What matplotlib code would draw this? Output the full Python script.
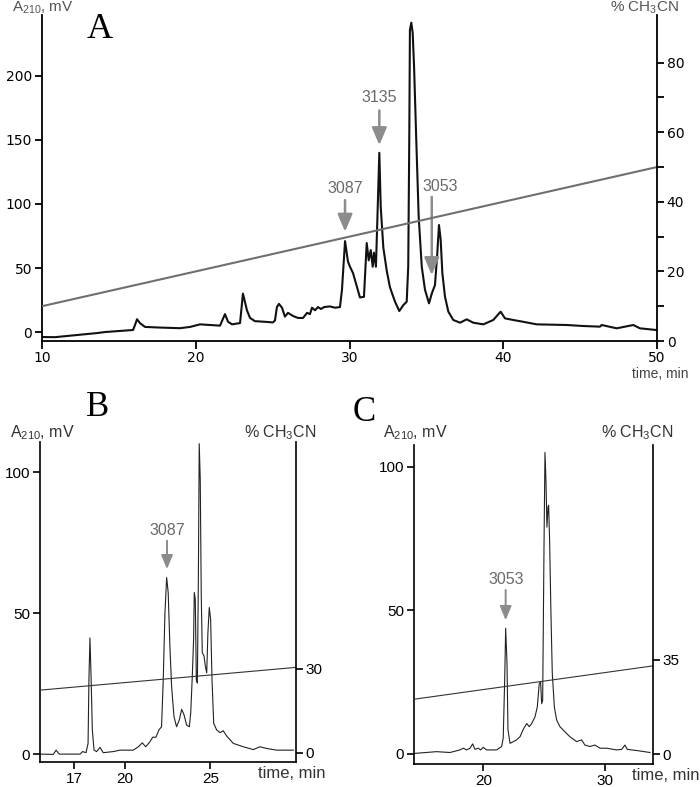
import numpy as np
import matplotlib
matplotlib.use("Agg")
import matplotlib.pyplot as plt

plt.rcParams["font.family"] = ["Liberation Sans", "DejaVu Sans"]
plt.rcParams["mathtext.default"] = "regular"

# ---- Panel A: full chromatogram ----
a_time = [10.0, 10.85, 13.58, 14.10, 15.92, 16.05, 16.18, 16.37, 16.70, 17.67,
          18.98, 19.63, 20.28, 20.93, 21.58, 21.90, 22.10, 22.36, 22.88, 23.07,
          23.33, 23.53, 23.85, 24.50, 25.02, 25.15, 25.28, 25.41, 25.61, 25.80,
          26.00, 26.13, 26.33, 26.65, 26.98, 27.24, 27.43, 27.56, 27.76, 27.95,
          28.15, 28.34, 28.73, 29.06, 29.38, 29.51, 29.71, 29.90, 30.03, 30.23,
          30.49, 30.68, 30.94, 31.12, 31.25, 31.38, 31.51, 31.59, 31.72, 31.81,
          31.94, 32.03, 32.20, 32.42, 32.63, 32.96, 33.24, 33.50, 33.72, 33.82,
          33.89, 33.93, 34.02, 34.11, 34.20, 34.33, 34.50, 34.70, 34.91, 35.17,
          35.35, 35.56, 35.71, 35.82, 35.93, 36.04, 36.21, 36.43, 36.75, 37.19,
          37.62, 38.05, 38.70, 39.35, 39.83, 40.11, 40.65, 41.30, 42.18, 44.13,
          45.21, 46.29, 46.40, 47.38, 48.46, 48.89, 49.94]
a_signal = [-3.9, -4.0, -0.8, 0.0, 1.6, 5.5, 10.0, 7.0, 4.0, 3.5,
            3.0, 4.0, 6.0, 5.5, 5.0, 14.0, 8.0, 6.0, 7.0, 30.0,
            17.0, 11.0, 8.5, 8.0, 7.5, 9.0, 19.5, 22.0, 19.0, 12.0,
            15.0, 14.0, 12.5, 11.0, 11.0, 15.0, 14.0, 19.0, 17.0, 19.5,
            18.0, 19.5, 20.0, 19.0, 19.5, 33.0, 71.0, 55.0, 51.0, 46.0,
            35.0, 27.0, 27.5, 69.5, 56.0, 64.0, 51.0, 62.0, 51.0, 87.0,
            140.0, 98.0, 66.0, 48.0, 35.0, 23.7, 16.4, 21.0, 23.7, 51.0,
            155.0, 236.0, 241.6, 233.6, 207.0, 155.0, 90.0, 51.0, 33.0, 22.4,
            30.0, 36.7, 61.5, 83.6, 72.0, 46.0, 27.6, 15.9, 9.4, 7.3,
            9.9, 7.3, 6.0, 9.4, 15.9, 10.7, 9.4, 8.0, 6.0, 5.5,
            4.7, 4.2, 5.5, 2.9, 5.5, 2.9, 1.6]
a_grad_time = [10, 50]
a_grad_pct = [10, 50]
a_labels = ["3087", "3135", "3053"]
a_label_time = [29.71, 31.94, 35.35]

# ---- Panel B: rechromatography of 3087 ----
b_time = [15.00, 15.78, 15.94, 16.13, 17.35, 17.50, 17.70, 17.82, 17.87, 17.93,
          17.99, 18.07, 18.17, 18.32, 18.52, 18.71, 19.30, 19.69, 20.47, 20.77,
          21.00, 21.20, 21.45, 21.61, 21.80, 21.98, 22.13, 22.23, 22.33, 22.43,
          22.52, 22.62, 22.72, 22.86, 23.01, 23.17, 23.31, 23.45, 23.60, 23.76,
          23.84, 23.93, 24.01, 24.05, 24.11, 24.17, 24.23, 24.29, 24.34, 24.40,
          24.46, 24.52, 24.62, 24.70, 24.78, 24.85, 24.93, 25.01, 25.09, 25.19,
          25.36, 25.56, 25.75, 25.95, 26.34, 26.93, 27.51, 27.90, 28.30, 28.88,
          29.86]
b_signal = [0.1, 0.0, 1.5, 0.1, 0.1, 1.0, 0.6, 3.9, 26.5, 41.3,
            28.9, 8.7, 1.5, 1.0, 2.5, 0.6, 1.0, 1.5, 1.5, 2.7,
            4.1, 2.7, 4.5, 6.1, 6.1, 8.7, 9.8, 26.5, 50.2, 62.7,
            57.4, 38.4, 24.1, 13.4, 9.8, 12.2, 16.0, 14.0, 10.4, 9.8,
            14.6, 27.1, 40.7, 57.4, 55.0, 26.5, 25.3, 62.1, 110.2, 97.6,
            56.2, 36.1, 34.9, 31.3, 28.9, 43.2, 52.1, 47.9, 26.5, 11.0,
            8.7, 7.7, 8.4, 6.5, 3.9, 2.7, 1.7, 2.7, 2.1, 1.5,
            1.5]
b_grad_time = [15, 30]
b_grad_pct = [22.3, 30.4]
b_labels = ["3087"]
b_label_time = [22.45]

# ---- Panel C: rechromatography of 3053 ----
c_time = [14.38, 16.17, 17.26, 18.08, 18.36, 18.63, 18.91, 19.13, 19.32, 19.59,
          19.78, 20.00, 20.28, 21.10, 21.51, 21.64, 21.76, 21.84, 21.95, 22.03,
          22.20, 22.47, 22.74, 23.02, 23.29, 23.57, 23.78, 23.98, 24.25, 24.44,
          24.60, 24.71, 24.80, 24.88, 24.99, 25.07, 25.15, 25.23, 25.32, 25.37,
          25.45, 25.56, 25.67, 25.84, 26.03, 26.30, 26.71, 27.12, 27.67, 28.08,
          28.35, 28.76, 29.17, 29.59, 30.14, 30.96, 31.37, 31.64, 31.83, 32.60,
          33.70]
c_signal = [0.2, 0.8, 0.5, 1.4, 2.0, 1.4, 2.0, 3.5, 1.6, 2.0,
            1.4, 2.3, 1.4, 1.4, 2.6, 5.5, 25.8, 43.8, 31.6, 8.4,
            3.7, 4.3, 4.9, 6.0, 8.6, 10.6, 9.5, 10.6, 12.9, 16.4,
            24.5, 25.1, 17.5, 18.7, 72.0, 105.0, 95.3, 79.0, 86.0, 86.6,
            74.5, 49.0, 28.1, 16.4, 11.8, 9.5, 7.7, 6.0, 4.3, 4.9,
            3.1, 2.6, 3.1, 2.0, 2.0, 1.4, 1.6, 3.1, 1.6, 1.2,
            0.5]
c_grad_time = [14.31, 33.92]
c_grad_pct = [20.4, 32.8]
c_labels = ["3053"]
c_label_time = [21.84]

W, H = 700, 787
fig = plt.figure(figsize=(W / 100, H / 100), dpi=100)


def rect(left, top, right, bottom):
    return [left / W, 1 - bottom / H, (right - left) / W, (bottom - top) / H]


def style(ax, ax2, fontfamily, fs, lw):
    for a in (ax, ax2):
        a.spines["top"].set_visible(False)
        for s in a.spines.values():
            s.set_linewidth(lw)
        a.tick_params(direction="out", length=5, width=lw, labelsize=fs, pad=2)
        for lab in a.get_xticklabels() + a.get_yticklabels():
            lab.set_family(fontfamily)
    ax2.spines["left"].set_visible(False)
    ax2.spines["bottom"].set_visible(False)
    ax.spines["right"].set_visible(False)


def arrow(ax, label, t, text_y, start_y, tip_y, text_t=None, fs=11,
          lw=1.8, hw=0.32, hl=0.75, color="#8c8c8c"):
    ax.annotate("", xy=(t, tip_y), xytext=(t, start_y),
                arrowprops=dict(arrowstyle=f"-|>,head_length={hl},head_width={hw}",
                                color=color, lw=lw, shrinkA=0, shrinkB=0,
                                mutation_scale=14))
    ax.text(t if text_t is None else text_t, text_y, label, ha="center",
            va="center", fontsize=fs, color="#6a6a6a")


# ---------------- Panel A ----------------
axA = fig.add_axes(rect(42, 15, 657, 341))
axA2 = axA.twinx()
axA.plot(a_time, a_signal, color="#111111", lw=1.5)
axA2.plot(a_grad_time, a_grad_pct, color="#6f6f6f", lw=1.5)
axA.set_xlim(10, 50)
axA.set_ylim(-7, 247.6)
axA2.set_ylim(0, 93.7)
axA.set_xticks([10, 20, 30, 40, 50])
axA.set_yticks([0, 50, 100, 150, 200])
axA2.set_yticks([0, 20, 40, 60, 80])
axA2.set_yticks([10, 30, 50, 70], minor=True)
style(axA, axA2, "DejaVu Sans", 10, 1.3)
axA2.tick_params(which="minor", direction="out", length=5, width=1.3)
axA.tick_params(axis="x", length=6, pad=1)

a_text_y = [112, 183, 114]
a_start_y = [103, 173, 105.5]
a_tip_y = [78.4, 146, 44.5]
a_text_t = [29.71, 31.94, 35.89]
for lab, t, ty, sy, tip, tt in zip(a_labels, a_label_time, a_text_y, a_start_y,
                                   a_tip_y, a_text_t):
    arrow(axA, lab, t, ty, sy, tip, text_t=tt, fs=11.5)

fig.text(12 / W, 1 - 8 / H, "A$_{210}$, mV", fontsize=11, color="#555555",
         ha="left", va="center")
fig.text(610 / W, 1 - 8 / H, "% CH$_3$CN", fontsize=11, color="#555555",
         ha="left", va="center")
fig.text(688 / W, 1 - 374 / H, "time, min", fontsize=10, color="#444444",
         ha="right", va="center")
fig.text(100 / W, 1 - 30 / H, "A", fontsize=26, family="Liberation Serif",
         ha="center", va="center")

# ---------------- Panel B ----------------
axB = fig.add_axes(rect(40, 442, 295.7, 762))
axB2 = axB.twinx()
axB.plot(b_time, b_signal, color="#222222", lw=0.8)
axB2.plot(b_grad_time, b_grad_pct, color="#333333", lw=0.8)
axB.set_xlim(15, 30)
axB.set_ylim(-2.7, 110.8)
axB2.set_ylim(-3.3, 110.7)
axB.set_xticks([17, 20, 25])
axB.set_yticks([0, 50, 100])
axB2.set_yticks([0, 30])
style(axB, axB2, "Liberation Sans", 11, 1.2)
for lab, t in zip(b_labels, b_label_time):
    arrow(axB, lab, t, 79.3, 75.8, 65.7, fs=11.5, lw=1.4, hw=0.25, hl=0.6)

fig.text(10 / W, 1 - 433 / H, "A$_{210}$, mV", fontsize=11.5, color="#333333",
         ha="left", va="center")
fig.text(244 / W, 1 - 433 / H, "% CH$_3$CN", fontsize=11.5, color="#333333",
         ha="left", va="center")
fig.text(325 / W, 1 - 773 / H, "time, min", fontsize=12, color="#333333",
         ha="right", va="center")
fig.text(98 / W, 1 - 408 / H, "B", fontsize=25, family="Liberation Serif",
         ha="center", va="center")

# ---------------- Panel C ----------------
axC = fig.add_axes(rect(414, 445, 652.7, 764))
axC2 = axC.twinx()
axC.plot(c_time, c_signal, color="#222222", lw=0.8)
axC2.plot(c_grad_time, c_grad_pct, color="#333333", lw=0.8)
axC.set_xlim(14.31, 33.92)
axC.set_ylim(-3.5, 107.6)
axC2.set_ylim(-3.7, 115)
axC.set_xticks([20, 30])
axC.set_yticks([0, 50, 100])
axC2.set_yticks([0, 35])
style(axC, axC2, "Liberation Sans", 11, 1.2)
for lab, t in zip(c_labels, c_label_time):
    arrow(axC, lab, t, 60.6, 57.1, 46.6, text_t=21.87, fs=11.5, lw=1.4,
          hw=0.25, hl=0.6)

fig.text(383 / W, 1 - 433 / H, "A$_{210}$, mV", fontsize=11.5, color="#333333",
         ha="left", va="center")
fig.text(601 / W, 1 - 433 / H, "% CH$_3$CN", fontsize=11.5, color="#333333",
         ha="left", va="center")
fig.text(700 / W, 1 - 775 / H, "time, min", fontsize=12, color="#333333",
         ha="right", va="center")
fig.text(364 / W, 1 - 412 / H, "C", fontsize=25, family="Liberation Serif",
         ha="center", va="center")

fig.savefig("out.png", dpi=100)
